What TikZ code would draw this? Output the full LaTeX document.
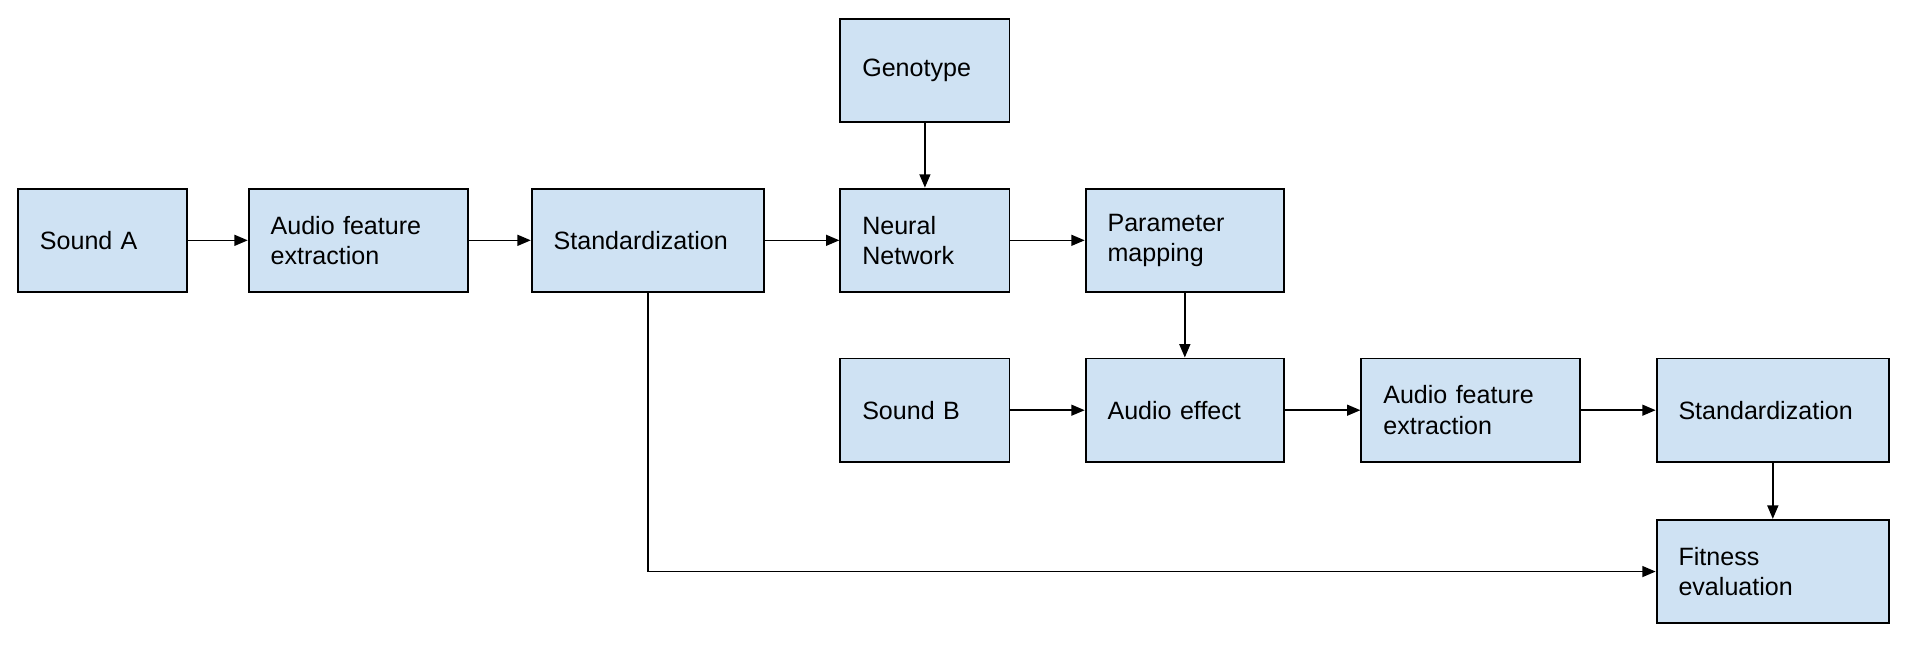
\documentclass[tikz,border=0pt]{standalone}
\usepackage{fontspec}
\setmainfont{Liberation Sans}
\usepackage{tikz}
\usetikzlibrary{positioning, arrows.meta}
\definecolor{boxblue}{HTML}{CFE2F3}

\tikzset{
	block/.style={draw, fill=boxblue, line width=0.8pt, minimum height=42.5pt, inner xsep=9pt, align=left, font=\fontsize{10.3pt}{12.5pt}\selectfont},
	narrowbox/.style={text width=51.5pt},
	midbox/.style={text width=63.5pt},
	featbox/.style={text width=72pt},
	widebox/.style={text width=77.5pt}
}

\begin{document}
\begin{tikzpicture} [line width=0.65pt, ->, >={Triangle[length=5.5pt,width=4.5pt]}]

\useasboundingbox (0,0) rectangle (784pt,-265pt);

\node[block, narrowbox, anchor=west]	(soundA)	at (7pt,-98.75pt)	{Sound A};
\node[block, featbox]	(featA)		[right=24.5pt of soundA]	{Audio feature \\ extraction};
\node[block, widebox]	(stdA)		[right=25.5pt of featA]		{Standardization};
\node[block, narrowbox]	(network)	[right=30.5pt of stdA]		{Neural \\ Network};
\node[block, narrowbox]	(genotype)	[above=26.5pt of network]	{Genotype};
\node[block, midbox]	(mapping)	[right=30.5pt of network]	{Parameter \\ mapping};
\node[block, narrowbox]	(soundB)	[below=26.5pt of network]	{Sound B};
\node[block, midbox]	(effect)	[right=30.5pt of soundB]	{Audio effect};
\node[block, featbox]	(featB)		[right=31pt of effect]		{Audio feature \\ extraction};
\node[block, widebox]	(stdB)		[right=30.5pt of featB]		{Standardization};
\node[block, widebox]	(fitness)	[below=23pt of stdB]		{Fitness \\ evaluation};

\draw (soundA) -- (featA);
\draw (featA) -- (stdA);
\draw (stdA) -- (network);
\draw (genotype) -- (network);
\draw (network) -- (mapping);
\draw (mapping) -- (effect);
\draw (soundB) -- (effect);
\draw (effect) -- (featB);
\draw (featB) -- (stdB);
\draw (stdB) -- (fitness);
\draw (stdA.south) |- (fitness.west);

\end{tikzpicture}
\end{document}
